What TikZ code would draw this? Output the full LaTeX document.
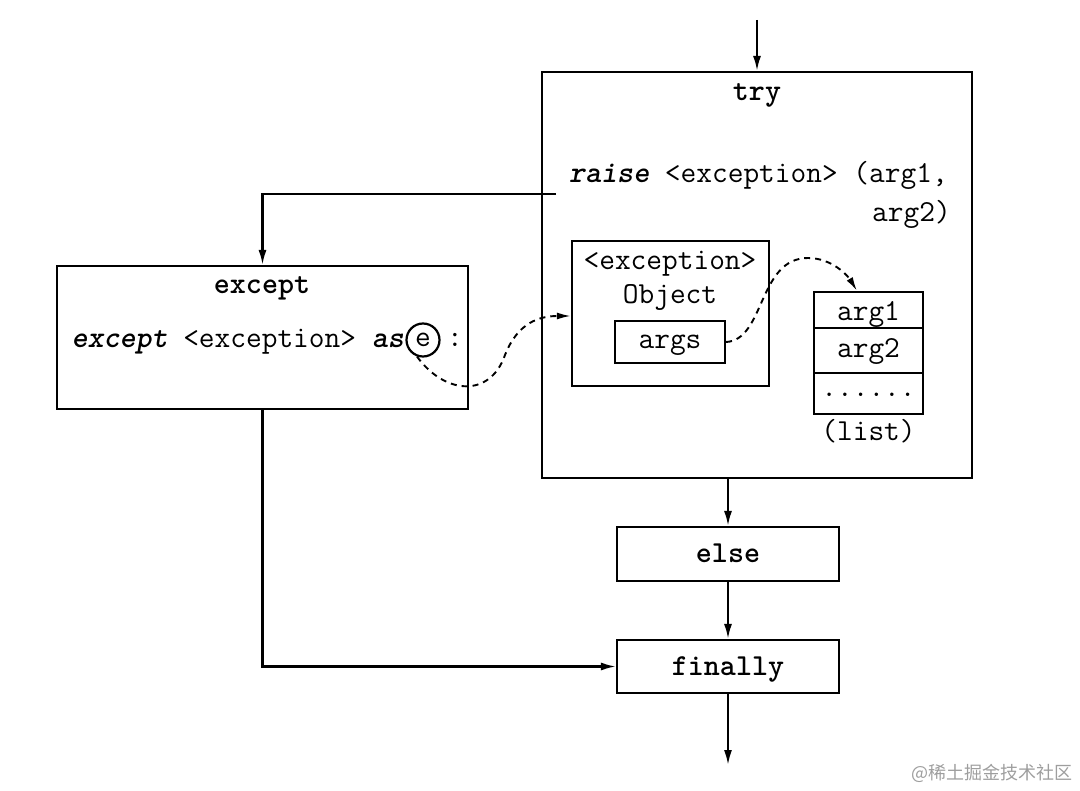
\documentclass[tikz,border=0pt]{standalone}
\usepackage{fontspec}
\newfontfamily\cjk{Noto Sans CJK SC}
\usetikzlibrary{arrows.meta}
\newcommand\kw[1]{\textbf{\textit{#1}}}
\newcommand\monofont{\ttfamily\fontsize{30.5}{34}\selectfont}
\begin{document}
\begin{tikzpicture}[x=1pt,y=-1pt,
  every node/.style={font=\monofont,inner sep=0pt},
  box/.style={draw,line width=2.2pt},
  arr/.style={line width=2.1pt,-{Latex[length=15pt,width=8pt]}},
  darr/.style={line width=1.9pt,dash pattern=on 6pt off 5pt,-{Latex[length=14pt,width=7pt]}},
  txt/.style={anchor=base}]
\useasboundingbox (0,0) rectangle (1080,791);
% boxes
\node[box,minimum width=430pt,minimum height=406pt] (try) at (757,275) {};
\node[box,minimum width=411pt,minimum height=143pt] (except) at (262.5,337.5) {};
\node[box,minimum width=197pt,minimum height=145pt] (obj) at (670.5,313.5) {};
\node[box,minimum width=110pt,minimum height=42pt] (args) at (670,342) {};
\node[box,minimum width=109pt,minimum height=36pt] (l1) at (868.5,310) {};
\node[box,minimum width=109pt,minimum height=45pt] (l2) at (868.5,350.5) {};
\node[box,minimum width=109pt,minimum height=41pt] (l3) at (868.5,393.5) {};
\node[box,minimum width=222pt,minimum height=54pt] (else) at (728,554) {};
\node[box,minimum width=222pt,minimum height=53pt] (finally) at (728,666.5) {};
% texts
\node[txt] (trylbl) at (757,101) {\textbf{try}};
\node[txt,anchor=base west] (raise) at (569,183) {\kw{raise} <exception> (arg1,};
\node[txt,anchor=base west] (arg2t) at (872,222) {arg2)};
\node[txt] (exceptlbl) at (262,294) {\textbf{except}};
\node[txt,anchor=base east] (exline) at (404,348) {\kw{except} <exception> \kw{as}};
\node[draw,circle,line width=2.2pt,minimum size=33pt] (evar) at (423,340) {e};
\node (colon) at (455,340) {:};
\node[txt] (objt1) at (670,270) {<exception>};
\node[txt] (objt2) at (670,304) {Object};
\node[txt] (argst) at (670,349) {args};
\node[txt] (l1t) at (868.5,321) {arg1};
\node[txt] (l2t) at (868.5,358) {arg2};
\node[txt] (l3t) at (868.5,397) {......};
\node[txt] (listt) at (868.5,441) {(list)};
\node[txt] (elset) at (728,563) {\textbf{else}};
\node[txt] (finallyt) at (728,675) {\textbf{finally}};
\node[anchor=east,font=\cjk\fontsize{18}{20}\selectfont,text=black!38] (wm) at (1073,773) {@稀土掘金技术社区};
% connectors
\coordinate (top) at (757,20);
\draw[arr] (top) -- (try.north);
\coordinate (rs) at (556,194);
\draw[arr] (rs) -| (except.north);
\draw[arr] (else.north |- try.south) -- (else.north);
\draw[arr] (else) -- (finally);
\draw[arr] (except.south) |- (finally.west);
\coordinate (end) at (728,765);
\draw[arr] (finally) -- (end);
% dashed curves
\draw[darr] (evar.250) .. controls (445,395) and (490,398) .. (505,355)
  .. controls (518,322) and (540,316) .. (obj.west |- 0,316);
\draw[darr] (args.east) .. controls (765,340) and (758,258) .. (808,258)
  .. controls (832,258) and (848,276) .. (l1.north -| 857,0);
\end{tikzpicture}
\end{document}
